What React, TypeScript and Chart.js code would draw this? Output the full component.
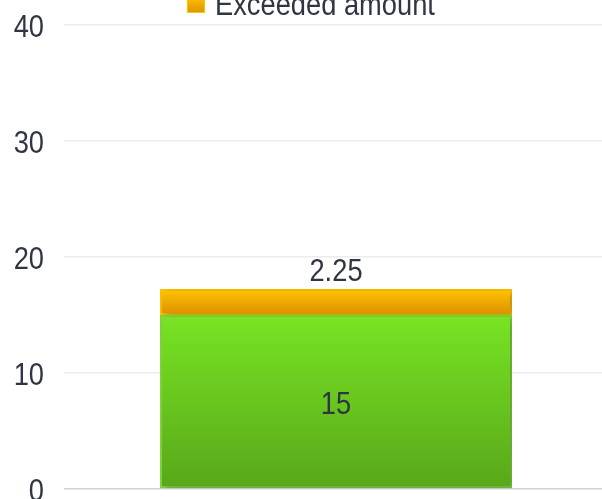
import React, { useEffect, useRef } from "react";
import { Chart, registerables } from "chart.js";

Chart.register(...registerables);

const categories = [""];
const limitValues = [15];
const exceededValues = [2.25];
const limitLabel = "Limit";
const exceededLabel = "Exceeded amount";
const yTickValues = [0, 10, 20, 30, 40];
const yMin = 0;
const yMax = 40;
const yStep = 10;

const FONT = '"Liberation Sans", Arial, sans-serif';
const FONT_SIZE = 31;
const SQUEEZE = 0.88;
const TEXT = "#2f3542";

function vGrad(ctx: any, top: number, bottom: number, c1: string, c2: string) {
  const g = ctx.createLinearGradient(0, top, 0, bottom);
  g.addColorStop(0, c1);
  g.addColorStop(1, c2);
  return g;
}

function narrowText(ctx: any, text: string, x: number, y: number, align: string) {
  ctx.save();
  ctx.translate(x, y);
  ctx.scale(SQUEEZE, 1);
  ctx.textAlign = align;
  ctx.textBaseline = "alphabetic";
  ctx.fillText(text, 0, 0);
  ctx.restore();
}

const textPlugin = {
  id: "narrowTexts",
  afterDraw(chart: any) {
    const ctx = chart.ctx;
    const area = chart.chartArea;
    const ys = chart.scales.y;
    ctx.save();
    ctx.font = `${FONT_SIZE}px ${FONT}`;
    ctx.fillStyle = TEXT;
    // y tick labels
    yTickValues.forEach((v) => {
      const py = ys.getPixelForValue(v);
      narrowText(ctx, String(v), area.left - 20, py + 12, "right");
    });
    // legend (only the exceeded series is shown)
    const ex = chart.data.datasets[1];
    const bx = 187;
    const by = -5;
    ctx.save();
    ctx.fillStyle = vGrad(ctx, by, by + 18, "#ffc502", "#e09300");
    ctx.fillRect(bx, by, 18, 18);
    ctx.strokeStyle = "#ffc400";
    ctx.lineWidth = 1;
    ctx.strokeRect(bx + 0.5, by + 0.5, 17, 17);
    ctx.restore();
    narrowText(ctx, ex.label, bx + 28, 15, "left");
    // data labels
    chart.data.datasets.forEach((ds: any, di: number) => {
      const meta = chart.getDatasetMeta(di);
      meta.data.forEach((el: any, i: number) => {
        const { x, y, base } = el.getProps(["x", "y", "base"], true);
        const v = ds.data[i];
        if (di === 0) {
          narrowText(ctx, String(v), x, (y + base) / 2 + 12, "center");
        } else {
          narrowText(ctx, String(v), x, y - 8, "center");
        }
      });
    });
    ctx.restore();
  },
};

const shadowPlugin = {
  id: "barShadow",
  beforeDatasetsDraw(chart: any) {
    const ctx = chart.ctx;
    ctx.save();
    ctx.shadowColor = "rgba(0,0,0,0.28)";
    ctx.shadowBlur = 6;
    ctx.shadowOffsetX = 3;
    ctx.shadowOffsetY = 2;
  },
  afterDatasetsDraw(chart: any) {
    chart.ctx.restore();
  },
};

export default function App() {
  const ref = useRef<HTMLCanvasElement>(null);
  useEffect(() => {
    if (!ref.current) return;
    const segColor = (c1: string, c2: string) => (c: any) => {
      const chart = c.chart;
      const ys = chart.scales?.y;
      if (!ys || !chart.chartArea) return c2;
      const ds = chart.data.datasets;
      let start = 0;
      for (let k = 0; k < c.datasetIndex; k++) start += ds[k].data[c.dataIndex];
      const end = start + ds[c.datasetIndex].data[c.dataIndex];
      const top = ys.getPixelForValue(end);
      const bottom = ys.getPixelForValue(start);
      if (!isFinite(top) || !isFinite(bottom) || top === bottom) return c2;
      return vGrad(chart.ctx, top, bottom, c1, c2);
    };
    const chart = new Chart(ref.current, {
      type: "bar",
      data: {
        labels: categories,
        datasets: [
          {
            label: limitLabel,
            data: limitValues,
            backgroundColor: segColor("#78e423", "#58a71a"),
            borderColor: "#80d63a",
            borderWidth: 2,
            borderSkipped: false,
          },
          {
            label: exceededLabel,
            data: exceededValues,
            backgroundColor: segColor("#ffc502", "#dc8e00"),
            borderColor: "#ffc000",
            borderWidth: 2,
            borderSkipped: false,
          },
        ],
      },
      options: {
        animation: false,
        responsive: true,
        maintainAspectRatio: false,
        datasets: { bar: { categoryPercentage: 1, barPercentage: 0.647 } },
        layout: { padding: { left: 64, right: 4, top: 25, bottom: 10 } },
        plugins: {
          tooltip: { enabled: false },
          legend: { display: false },
        },
        scales: {
          x: {
            stacked: true,
            display: false,
            grid: { display: false },
          },
          y: {
            stacked: true,
            min: yMin,
            max: yMax,
            ticks: { stepSize: yStep, display: false },
            border: { display: false },
            grid: {
              drawTicks: false,
              lineWidth: 1.5,
              color: (c: any) => (c.tick && c.tick.value === 0 ? "#d2d2d2" : "#ececec"),
            },
          },
        },
      },
      plugins: [shadowPlugin, textPlugin],
    });
    return () => chart.destroy();
  }, []);

  return (
    <div
      style={{
        position: "fixed",
        left: 0,
        top: 0,
        width: 612,
        height: 499,
        background: "#fff",
      }}
    >
      <canvas ref={ref} />
    </div>
  );
}
